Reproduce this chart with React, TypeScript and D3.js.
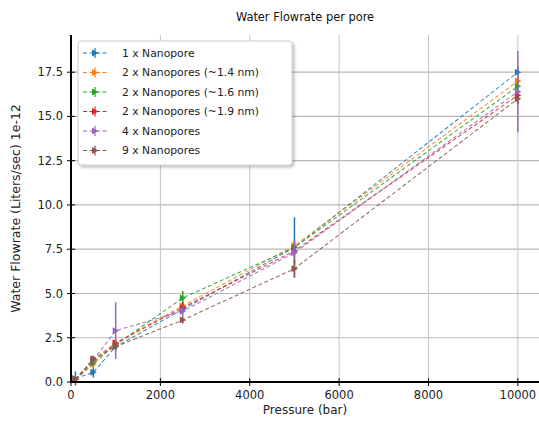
import React from "react";
import * as d3 from "d3";

const pressures = [100, 500, 1000, 2500, 5000, 10000];
const seriesNames = [
  "1 x Nanopore",
  "2 x Nanopores (~1.4 nm)",
  "2 x Nanopores (~1.6 nm)",
  "2 x Nanopores (~1.9 nm)",
  "4 x Nanopores",
  "9 x Nanopores",
];
const seriesColors = ["#1f77b4", "#ff7f0e", "#2ca02c", "#d62728", "#9467bd", "#8c564b"];
const blueVals = [0.2, 0.55, 2.0, 4.1, 7.6, 17.5];
const orangeVals = [0.15, 1.0, 2.2, 4.3, 7.7, 17.0];
const greenVals = [0.15, 1.1, 2.1, 4.75, 7.6, 16.7];
const redVals = [0.15, 1.25, 2.2, 4.2, 7.4, 16.2];
const purpleVals = [0.15, 1.25, 2.9, 4.0, 7.3, 16.4];
const brownVals = [0.15, 1.3, 2.0, 3.5, 6.4, 16.0];
const blueErr = [0.4, 0.3, 0.2, 0.2, 1.7, 0.3];
const orangeErr = [0.1, 0.2, 0.2, 0.2, 0.3, 0.3];
const greenErr = [0.1, 0.2, 0.2, 0.4, 0.3, 0.3];
const redErr = [0.1, 0.2, 0.2, 0.3, 0.3, 0.3];
const purpleErr = [0.1, 0.2, 1.6, 0.3, 0.7, 2.3];
const brownErr = [0.1, 0.2, 0.2, 0.2, 0.5, 0.3];
const xTicks = [0, 2000, 4000, 6000, 8000, 10000];
const yTicks = [0, 2.5, 5, 7.5, 10, 12.5, 15, 17.5];

const allVals = [blueVals, orangeVals, greenVals, redVals, purpleVals, brownVals];
const allErr = [blueErr, orangeErr, greenErr, redErr, purpleErr, brownErr];

export default function App() {
  const W = 539, H = 424;
  const left = 71, right = 540, top = 35, bottom = 382;
  const x = d3.scaleLinear().domain([0, 10495]).range([left, right]);
  const y = d3.scaleLinear().domain([0, 19.6]).range([bottom, top]);
  const font = "DejaVu Sans, sans-serif";
  const line = d3.line<number>().x((_, i) => x(pressures[i])).y((d) => y(d));

  const legX = 78, legY = 41, legW = 214, legH = 124;
  return (
    <svg width={W} height={H} style={{ position: "absolute", left: 0, top: 0, background: "#fff" }}>
      <defs>
        <filter id="sh" x="-10%" y="-10%" width="130%" height="130%">
          <feDropShadow dx="2" dy="2" stdDeviation="1.5" floodColor="#000" floodOpacity="0.25" />
        </filter>
      </defs>
      <rect width={W} height={H} fill="#fff" />
      {/* grid */}
      {yTicks.map((t) => (
        <line key={"gy" + t} x1={left} x2={W} y1={y(t)} y2={y(t)} stroke="#b8b8b8" strokeWidth={1.2} />
      ))}
      {xTicks.map((t) => (
        <line key={"gx" + t} x1={x(t)} x2={x(t)} y1={top} y2={bottom} stroke="#c4c4c4" strokeWidth={1} />
      ))}
      {/* series */}
      {allVals.map((vals, si) => (
        <g key={"s" + si}>
          <path d={line(vals) || ""} fill="none" stroke={seriesColors[si]} strokeWidth={1.1} strokeDasharray="4,2.5" opacity={0.85} />
          {vals.map((v, i) => (
            <line key={"e" + i} x1={x(pressures[i])} x2={x(pressures[i])} y1={y(v - allErr[si][i])} y2={y(v + allErr[si][i])} stroke={seriesColors[si]} strokeWidth={1.5} />
          ))}
          {vals.map((v, i) => (
            <path key={"m" + i} transform={`translate(${x(pressures[i])},${y(v)})`} d="M-3,-3.5 L3.5,0 L-3,3.5 Z" fill={seriesColors[si]} />
          ))}
        </g>
      ))}
      {/* spines */}
      <line x1={left} x2={left} y1={top} y2={bottom + 1} stroke="#000" strokeWidth={2} />
      <line x1={left - 1} x2={W} y1={bottom} y2={bottom} stroke="#000" strokeWidth={2} />
      {yTicks.map((t) => (
        <g key={"yt" + t}>
          <line x1={left - 4} x2={left + 4} y1={y(t)} y2={y(t)} stroke="#000" strokeWidth={1} />
          <text x={left - 8} y={y(t)} dy="0.35em" textAnchor="end" fontSize={11.5} fontFamily={font} fill="#222">
            {t.toFixed(1)}
          </text>
        </g>
      ))}
      {xTicks.map((t) => (
        <g key={"xt" + t}>
          <line x1={x(t)} x2={x(t)} y1={bottom - 4} y2={bottom + 4} stroke="#000" strokeWidth={1} />
          <text x={x(t)} y={bottom + 17} textAnchor="middle" fontSize={11.5} fontFamily={font} fill="#222">
            {t}
          </text>
        </g>
      ))}
      <text x={305} y={414} textAnchor="middle" fontSize={12} fontFamily={font} fill="#222">Pressure (bar)</text>
      <text transform={`translate(20,${(top + bottom) / 2}) rotate(-90)`} textAnchor="middle" fontSize={12.5} fontFamily={font} fill="#222">
        Water Flowrate (Liters/sec) 1e-12
      </text>
      <text x={305} y={21} textAnchor="middle" fontSize={11.4} fontFamily={font} fill="#111">Water Flowrate per pore</text>
      {/* legend */}
      <rect x={legX} y={legY} width={legW} height={legH} rx={3} fill="#fff" stroke="#ccc" strokeWidth={1} filter="url(#sh)" />
      {seriesNames.map((n, i) => {
        const ly = legY + 12 + i * 19.5;
        return (
          <g key={"l" + i}>
            <line x1={legX + 5} x2={legX + 29} y1={ly} y2={ly} stroke={seriesColors[i]} strokeWidth={1.1} strokeDasharray="4,2.5" />
            <line x1={legX + 17} x2={legX + 17} y1={ly - 5} y2={ly + 5} stroke={seriesColors[i]} strokeWidth={1.2} />
            <path transform={`translate(${legX + 17},${ly})`} d="M-3,-3.5 L3.5,0 L-3,3.5 Z" fill={seriesColors[i]} />
            <text x={legX + 44} y={ly} dy="0.35em" fontSize={10.8} fontFamily={font} fill="#222">{n}</text>
          </g>
        );
      })}
    </svg>
  );
}
